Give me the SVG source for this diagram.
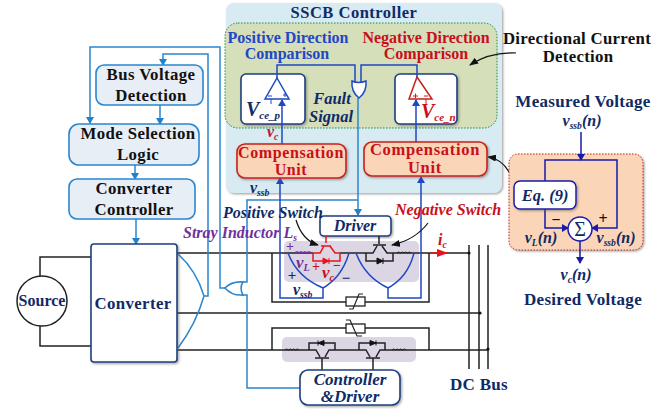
<svg xmlns="http://www.w3.org/2000/svg" width="672" height="409" viewBox="0 0 672 409">
<style>
text{font-family:"Liberation Serif","Times New Roman",serif;font-weight:bold}
.c{text-anchor:middle}
.i{font-style:italic}
.s{font-size:.6em}
.navy{fill:#0f2a66}
.blk{fill:#111}
.blue{fill:#1f48c4}
.red{fill:#c8101a}
.pur{fill:#7030a0}
.lb{fill:#e8eef6;stroke:#2a86cf;stroke-width:1.6}
.rd{fill:#fbd5b8;stroke:#c8201a;stroke-width:1.6}
.wb{fill:#fff;stroke:#1f3f7f;stroke-width:1.6}
.w{fill:none;stroke:#222;stroke-width:1.5}
.wl{fill:none;stroke:#2a86cf;stroke-width:1.5}
.wd{fill:none;stroke:#1f48c4;stroke-width:1.5}
.wn{fill:none;stroke:#1a1aa8;stroke-width:1.5}
.wr{fill:none;stroke:#e8141c;stroke-width:1.5}
.wp{fill:none;stroke:#7030a0;stroke-width:1.2}
.cv{fill:none;stroke:#111;stroke-width:1.2}
</style>
<defs>
<filter id="sh" x="-10%" y="-10%" width="125%" height="125%"><feDropShadow dx="1.2" dy="1.2" stdDeviation="0.8" flood-color="#555" flood-opacity=".55"/></filter>
<marker id="al" markerWidth="7" markerHeight="8" refX="6" refY="4" orient="auto" markerUnits="userSpaceOnUse"><path d="M0,0L7,4L0,8z" fill="#1f82cc"/></marker>
<marker id="ad" markerWidth="7" markerHeight="8" refX="6" refY="4" orient="auto" markerUnits="userSpaceOnUse"><path d="M0,0L7,4L0,8z" fill="#1f48c4"/></marker>
<marker id="an" markerWidth="7" markerHeight="8" refX="6" refY="4" orient="auto" markerUnits="userSpaceOnUse"><path d="M0,0L7,4L0,8z" fill="#1a1aa8"/></marker>
<marker id="ab" markerWidth="9" markerHeight="7" refX="8" refY="3.5" orient="auto" markerUnits="userSpaceOnUse"><path d="M0,0L9,3.5L0,7z" fill="#111"/></marker>
<marker id="ar" markerWidth="11" markerHeight="8" refX="10" refY="4" orient="auto" markerUnits="userSpaceOnUse"><path d="M0,0L11,4L0,8z" fill="#e8141c"/></marker>
</defs>

<g id="sscb-panel">
<rect x="226" y="3" width="276" height="190" rx="8" fill="#d8eaf2" filter="url(#sh)"/>
<text class="c navy" x="354" y="18" font-size="16.500" letter-spacing=".5">SSCB Controller</text>
<rect x="225" y="23" width="272" height="105" rx="13" fill="#d5dfba" stroke="#1e8a3a" stroke-width="1" stroke-dasharray="1.500 1.500"/>
</g>
<g id="purple-bands">
<rect x="284" y="241" width="135" height="41" rx="5" fill="#dcd6e4"/>
<rect x="282" y="337" width="134" height="25" rx="5" fill="#dcd6e4"/>
</g>

<g id="comparator-positive">
<rect class="wb" x="241" y="74" width="64" height="50" rx="5" filter="url(#sh)"/>
<path d="M277,78L289,99H265z" fill="none" stroke="#1f48c4" stroke-width="1.500"/>
<path d="M271,99V104M283,95H287M285,93V97M268,96H272" class="wd" style="stroke-width:1"/>
<text class="navy i" x="246" y="116" font-size="20">V<tspan class="s" dy="3" style="font-size:11px">ce_p</tspan></text>
</g>
<g id="comparator-negative">
<rect class="wb" x="395" y="74" width="62" height="50" rx="5" filter="url(#sh)"/>
<path d="M417,77L432,99H409z" fill="none" stroke="#c8201a" stroke-width="1.500"/>
<path d="M413,96H418M415.500,93.500V98.500M424,96H428M426,99V104" class="wr" style="stroke-width:1"/>
<text class="red i" x="421" y="118" font-size="20">V<tspan class="s" dy="3" style="font-size:11px">ce_n</tspan></text>
</g>

<g id="connectors">
<path class="w" d="M40,276V257H91M40,326V346H91"/>
<path class="w" d="M177,253H313M340,253H366M393,253H469M177,313H480M177,350H309M335,350H359M385,350H488"/>
<path class="w" d="M272,253V302H346M365,302H429V253M272,350V328H346M365,328H429V350"/>
<path class="w" d="M469,245V369M479,245V369M488,245V369"/>
<circle cx="469" cy="253" r="1.600" fill="#111"/><circle cx="480" cy="313" r="1.600" fill="#111"/><circle cx="488" cy="349" r="1.600" fill="#111"/>
<path class="wl" d="M178,254Q196,270 204,296Q196,324 178,348M204,296H208V54H163V65" marker-end="url(#al)"/>
<path class="wl" d="M225,288H220V47H90V123" marker-end="url(#al)"/>
<path class="wl" d="M160,105V124" marker-end="url(#al)"/>
<path class="wl" d="M135,165V179" marker-end="url(#al)"/>
<path class="wl" d="M136,219V244" marker-end="url(#al)"/>
<path class="wl" d="M358,98V215" marker-end="url(#al)"/>
<path class="wl" d="M358,200H247V282H241M241,295H247V388H300"/>
<path class="wd" d="M288,253Q297,277 323,288Q342,277 349,253M323,288V298H280V178" marker-end="url(#ad)"/>
<path class="wd" d="M356,253Q365,277 388,288Q408,277 414,253M388,288V298H421V177" marker-end="url(#ad)"/>
<path class="wd" d="M282,144V100" marker-end="url(#ad)"/>
<path class="wd" d="M416,142V100" marker-end="url(#ad)"/>
<path class="wd" d="M277,78V65H355V82M417,77V65H361V82"/>
<path class="cv" d="M516,53Q490,52 470,65" marker-end="url(#ab)"/>
<path class="cv" d="M509,172Q502,159 488,157" marker-end="url(#ab)"/>
<path class="cv" d="M296,220Q302,240 318,245" marker-end="url(#ab)"/>
<path class="cv" d="M428,223Q415,240 392,245" marker-end="url(#ab)"/>
<path class="wr" d="M430,253H447" marker-end="url(#ar)"/>
</g>

<g id="or-gate-fault">
<path d="M352,81Q358,84 366,81Q367,92 359,98Q351,92 352,81z" fill="#fff" stroke="#1f48c4" stroke-width="1.500"/>
</g>
<g id="or-gate-bus">
<path d="M225,288Q232,281 243,282Q239,288 243,295Q232,296 225,288z" fill="#fff" stroke="#2a86cf" stroke-width="1.500"/>
</g>

<g id="bus-voltage-detection">
<rect class="lb" x="96" y="65" width="107" height="40" rx="8"/>
<text class="c blk" x="151" y="80" font-size="16.800" letter-spacing=".4">Bus Voltage</text>
<text class="c blk" x="151" y="101" font-size="16.800" letter-spacing=".4">Detection</text>
</g>
<g id="mode-selection">
<rect class="lb" x="69" y="124" width="130" height="41" rx="10"/>
<text class="c blk" x="138" y="139" font-size="16.800" letter-spacing=".4">Mode Selection</text>
<text class="c blk" x="138" y="160" font-size="16.800" letter-spacing=".4">Logic</text>
</g>
<g id="converter-controller">
<rect class="lb" x="69" y="179" width="126" height="40" rx="8"/>
<text class="c blk" x="134" y="194" font-size="16.800" letter-spacing=".4">Converter</text>
<text class="c blk" x="134" y="215" font-size="16.800" letter-spacing=".4">Controller</text>
</g>
<g id="converter">
<rect class="wb" x="91" y="244" width="86" height="118" rx="3" filter="url(#sh)"/>
<text class="c navy" x="133" y="309" font-size="16.800" letter-spacing=".4">Converter</text>
</g>
<g id="source">
<circle cx="42" cy="301" r="25" fill="#fff" stroke="#222" stroke-width="1.500"/>
<text class="c navy" x="42" y="306" font-size="16">Source</text>
</g>

<g id="compensation-left">
<rect class="rd" x="237" y="144" width="109" height="34" rx="8" filter="url(#sh)"/>
<text class="c red" x="291" y="158" font-size="16" letter-spacing=".6">Compensation</text>
<text class="c red" x="291" y="175" font-size="16" letter-spacing=".6">Unit</text>
</g>
<g id="compensation-right">
<rect class="rd" x="364" y="142" width="123" height="34" rx="8" filter="url(#sh)"/>
<text class="c red" x="425" y="155" font-size="16.500" letter-spacing=".7">Compensation</text>
<text class="c red" x="425" y="173" font-size="16.500" letter-spacing=".7">Unit</text>
</g>
<g id="panel-labels">
<text class="c blue" x="288" y="43" font-size="16">Positive Direction</text>
<text class="c blue" x="287" y="59" font-size="16">Comparison</text>
<text class="c red" x="426" y="43" font-size="16">Negative Direction</text>
<text class="c red" x="426" y="59" font-size="16">Comparison</text>
<text class="c navy i" x="332" y="104" font-size="16.500">Fault</text>
<text class="c navy i" x="331" y="122" font-size="16.500">Signal</text>
<text class="red i" x="267" y="137" font-size="16">v<tspan class="s" dy="3">c</tspan></text>
<text class="navy i" x="250" y="193" font-size="16">v<tspan class="s" dy="3">ssb</tspan></text>
<text class="c blk" x="577" y="44" font-size="16.800" letter-spacing=".3">Directional Current</text>
<text class="c blk" x="578" y="62" font-size="16.800" letter-spacing=".3">Detection</text>
</g>

<g id="driver">
<rect class="wb" x="320" y="216" width="71" height="20" rx="4" filter="url(#sh)"/>
<text class="c navy i" x="355" y="231" font-size="16">Driver</text>
</g>
<g id="positive-switch">
<path class="wr" d="M326,236V243M321,246H331M313,253H320L324,246M330,246L335,253H340M313,253V261H340V253"/>
<path d="M323,258L329,261L323,264zM329,258V264" fill="#e8141c" stroke="#e8141c"/>
</g>
<g id="negative-switch">
<path class="w" d="M379,236V244M373,245H386M366,253H373L377,246M382,246L387,253H393M366,253V261H393V253"/>
<path d="M377,258L383,261L377,264zM383,258V264" fill="#111" stroke="#111"/>
</g>
<g id="inductors">
<path class="wp" d="M295,253a2.500,3 0 0 1 4,0a2.500,3 0 0 1 4,0a2.500,3 0 0 1 4,0a2.500,3 0 0 1 4,0"/>
<path class="w" style="stroke-width:1" d="M397,253a2.500,3 0 0 1 3.500,0a2.500,3 0 0 1 3.500,0a2.500,3 0 0 1 3.500,0a2.500,3 0 0 1 3.500,0"/>
<path class="w" style="stroke-width:1" d="M285,350a2.500,3 0 0 1 3.500,0a2.500,3 0 0 1 3.500,0a2.500,3 0 0 1 3.500,0a2.500,3 0 0 1 3.500,0"/>
<path class="w" style="stroke-width:1" d="M392,350a2.500,3 0 0 1 3.500,0a2.500,3 0 0 1 3.500,0a2.500,3 0 0 1 3.500,0a2.500,3 0 0 1 3.500,0"/>
</g>
<g id="varistor-top">
<rect x="346" y="297" width="19" height="9" fill="#fff" stroke="#222" stroke-width="1.300"/>
<path class="w" style="stroke-width:1.200" d="M349,309H353L359,294H363"/>
</g>
<g id="varistor-bottom">
<rect x="346" y="324" width="19" height="9" fill="#fff" stroke="#222" stroke-width="1.300"/>
<path class="w" style="stroke-width:1.200" d="M346,320H350L357,336H362"/>
</g>
<g id="lower-switches">
<path class="w" d="M309,350V343H335V350M309,350H316L320,357M325,357L329,350H335M315,358H329M322,358V370"/>
<path d="M324,340.500L318,343L324,345.500zM318,340.500V345.500" fill="#111" stroke="#111"/>
<path class="w" d="M359,350V343H385V350M359,350H366L370,357M376,357L380,350H385M366,358H380M373,358V370"/>
<path d="M370,340.500L376,343L370,345.500zM376,340.500V345.500" fill="#111" stroke="#111"/>
</g>
<g id="controller-driver">
<rect class="wb" x="300" y="370" width="100" height="35" rx="8" filter="url(#sh)"/>
<text class="c navy i" x="350" y="385" font-size="17">Controller</text>
<text class="c navy i" x="350" y="402" font-size="17">&amp;Driver</text>
</g>
<g id="circuit-labels">
<text class="navy i" x="223" y="218" font-size="16">Positive Switch</text>
<text class="red i" x="395" y="215" font-size="16">Negative Switch</text>
<text class="pur i" x="183" y="238" font-size="16">Stray Inductor L<tspan class="s" dy="3">s</tspan></text>
<text class="pur c" x="290" y="251" font-size="14">+</text>
<text class="pur c" x="314" y="250" font-size="14">−</text>
<text class="pur i" x="296" y="268" font-size="17">v<tspan class="s" dy="3">L</tspan></text>
<text class="navy c" x="292" y="280" font-size="15">+</text>
<text class="navy i" x="293" y="295" font-size="16">v<tspan class="s" dy="3">ssb</tspan></text>
<text class="red c" x="316" y="271" font-size="14">+</text>
<text class="red c" x="337" y="270" font-size="14">−</text>
<text class="red i" x="322" y="278" font-size="17">v<tspan class="s" dy="3">c</tspan></text>
<text class="navy c" x="346" y="283" font-size="15">−</text>
<text class="red i" x="438" y="245" font-size="16">i<tspan class="s" dy="3">c</tspan></text>
<text class="c navy" x="479" y="390" font-size="17" letter-spacing=".3">DC Bus</text>
</g>

<g id="compensation-detail">
<rect x="509" y="154" width="134" height="96" rx="9" fill="#fbd5b8" stroke="#c8201a" stroke-width="1" stroke-dasharray="1.500 1.500" filter="url(#sh)"/>
<text class="c navy" x="583" y="107" font-size="17" letter-spacing=".3">Measured Voltage</text>
<text class="c navy i" x="582" y="126" font-size="16">v<tspan class="s" dy="3">ssb</tspan><tspan dy="-3">(n)</tspan></text>
<path class="wn" d="M581,132V160" marker-end="url(#an)"/>
<path class="wn" d="M545,181V160H617V228H592" marker-end="url(#an)"/>
<path class="wn" d="M545,209V228H568" marker-end="url(#an)"/>
<path class="wn" d="M580,241V263" marker-end="url(#an)"/>
<rect x="514" y="181" width="62" height="28" rx="6" fill="#fff" stroke="#1a1aa8" stroke-width="1.500" filter="url(#sh)"/>
<text class="c navy i" x="545" y="201" font-size="16.500">Eq. (9)</text>
<circle cx="580" cy="229" r="12" fill="#fff" stroke="#1a1aa8" stroke-width="1.500"/>
<text class="c navy" x="580" y="236" font-size="20" style="font-weight:normal">Σ</text>
<text class="c blk" x="556" y="225" font-size="16">−</text>
<text class="c blk" x="603" y="224" font-size="16">+</text>
<text class="c navy i" x="541" y="243" font-size="16">v<tspan class="s" dy="3">L</tspan><tspan dy="-3">(n)</tspan></text>
<text class="c navy i" x="616" y="243" font-size="16">v<tspan class="s" dy="3">ssb</tspan><tspan dy="-3">(n)</tspan></text>
<text class="c navy i" x="576" y="280" font-size="16">v<tspan class="s" dy="3">c</tspan><tspan dy="-3">(n)</tspan></text>
<text class="c navy" x="583" y="305" font-size="17" letter-spacing=".3">Desired Voltage</text>
</g>
</svg>
